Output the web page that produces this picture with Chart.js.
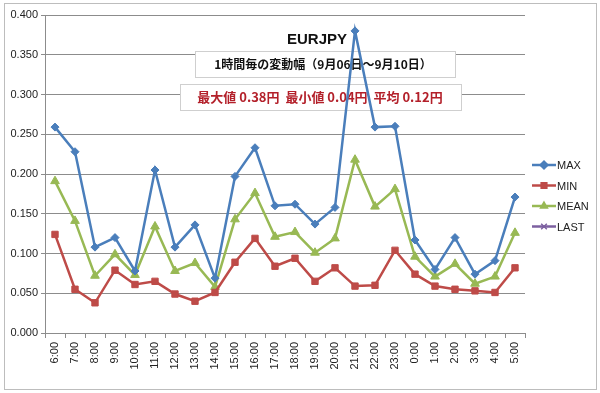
<!DOCTYPE html>
<html>
<head>
<meta charset="utf-8">
<script src="https://cdn.jsdelivr.net/npm/chart.js@4/dist/chart.umd.min.js"></script>
<style>
  html, body { margin: 0; padding: 0; background: #fff; }
  #wrap { width: 600px; height: 393px; position: relative; }
</style>
</head>
<body>
<div id="wrap"><canvas id="rangeChart" width="600" height="393"></canvas></div>
<script>
// EURJPY hourly range chart (Sep 06 - Sep 10)
const hours = ["6:00", "7:00", "8:00", "9:00", "10:00", "11:00", "12:00", "13:00", "14:00", "15:00", "16:00", "17:00",
    "18:00", "19:00", "20:00", "21:00", "22:00", "23:00", "0:00", "1:00", "2:00", "3:00", "4:00", "5:00"];
const maxValues = [0.259, 0.228, 0.108, 0.120, 0.078, 0.205, 0.108, 0.136, 0.069, 0.197, 0.233, 0.160,
    0.162, 0.137, 0.158, 0.380, 0.259, 0.260, 0.117, 0.080, 0.120, 0.074, 0.091, 0.171];
const minValues = [0.124, 0.055, 0.038, 0.079, 0.061, 0.065, 0.049, 0.040, 0.051, 0.089, 0.119, 0.084,
    0.094, 0.065, 0.082, 0.059, 0.060, 0.104, 0.074, 0.059, 0.055, 0.053, 0.051, 0.082];
const meanValues = [0.191, 0.141, 0.072, 0.099, 0.073, 0.134, 0.078, 0.088, 0.058, 0.143, 0.176, 0.121,
    0.127, 0.101, 0.119, 0.218, 0.159, 0.181, 0.096, 0.071, 0.087, 0.062, 0.071, 0.126];
const lastValues = [];
const yTicks = [0, 0.05, 0.1, 0.15, 0.2, 0.25, 0.3, 0.35, 0.4];

const seriesColors = { MAX: '#4a7ebb', MIN: '#be4b48', MEAN: '#98b954', LAST: '#7d60a0' };

// frame, text boxes and legend drawn like the Excel sheet
const decorations = {
    id: 'decorations',
    beforeDraw(chart) {
        const c = chart.ctx;
        c.save();
        c.fillStyle = '#fff';
        c.fillRect(0, 0, chart.width, chart.height);
        c.strokeStyle = '#bdbdbd';
        c.lineWidth = 1;
        c.strokeRect(4.5, 3.5, 592, 386);
        c.restore();
    },
    beforeDatasetsDraw(chart) {
        const c = chart.ctx;
        c.save();
        c.textAlign = 'center';
        c.textBaseline = 'middle';
        c.fillStyle = '#111';
        c.font = 'bold 15px "Liberation Sans", Arial, sans-serif';
        c.fillText('EURJPY', 317, 40);

        c.fillStyle = '#fff';
        c.strokeStyle = '#cfcfcf';
        c.fillRect(195, 51, 260, 26);
        c.strokeRect(195.5, 51.5, 260, 26);
        c.fillRect(180, 84, 281, 26);
        c.strokeRect(180.5, 84.5, 281, 26);

        c.fillStyle = '#111';
        c.font = 'bold 12px "Noto Sans CJK JP", sans-serif';
        c.fillText('1時間毎の変動幅（9月06日～9月10日）', 323, 64);
        c.fillStyle = '#b3202a';
        c.font = 'bold 13px "Noto Sans CJK JP", sans-serif';
        c.fillText('最大値 0.38円  最小値 0.04円  平均 0.12円', 320, 97);
        c.restore();
    },
    afterDraw(chart) {
        const c = chart.ctx;
        c.save();
        c.font = '11px "Liberation Sans", Arial, sans-serif';
        c.textBaseline = 'middle';
        chart.data.datasets.forEach((ds, i) => {
            const y = 165 + i * 20.5;
            c.strokeStyle = ds.borderColor;
            c.lineWidth = 2.5;
            c.beginPath();
            c.moveTo(532, y);
            c.lineTo(556, y);
            c.stroke();
            c.fillStyle = ds.borderColor;
            c.lineWidth = 1.5;
            Chart.helpers.drawPoint(c, { pointStyle: ds.pointStyle, radius: 4, borderWidth: 1.5, rotation: 0 }, 544, y);
            c.fillStyle = '#222';
            c.fillText(ds.label, 557, y + 1);
        });
        c.restore();
    }
};

function lineSeries(label, values, style, radius) {
    return {
        label: label,
        data: values,
        borderColor: seriesColors[label],
        backgroundColor: seriesColors[label],
        borderWidth: 2.5,
        pointStyle: style,
        pointRadius: radius,
        pointBorderWidth: 1,
        tension: 0,
        fill: false
    };
}

new Chart(document.getElementById('rangeChart'), {
    type: 'line',
    data: {
        labels: hours,
        datasets: [
            lineSeries('MAX', maxValues, 'rectRot', 4),
            lineSeries('MIN', minValues, 'rect', 4.5),
            lineSeries('MEAN', meanValues, 'triangle', 5),
            lineSeries('LAST', lastValues, 'crossRot', 4)
        ]
    },
    options: {
        responsive: false,
        animation: false,
        layout: { padding: { left: 5, top: 15, right: 75, bottom: 0 } },
        plugins: {
            legend: { display: false },
            title: { display: false },
            tooltip: { enabled: false }
        },
        scales: {
            x: {
                offset: true,
                afterFit(scale) { scale.height = 60; },
                grid: {
                    offset: true,
                    drawOnChartArea: false,
                    drawTicks: true,
                    tickLength: 5,
                    color: '#8c8c8c'
                },
                border: { color: '#8c8c8c', width: 1 },
                ticks: {
                    autoSkip: false,
                    minRotation: 90,
                    maxRotation: 90,
                    padding: 4,
                    color: '#222',
                    font: { family: '"Liberation Sans", Arial, sans-serif', size: 11 }
                }
            },
            y: {
                min: 0,
                max: 0.4,
                afterFit(scale) { scale.width = 40; },
                afterBuildTicks(scale) { scale.ticks = yTicks.map(v => ({ value: v })); },
                grid: {
                    color: '#8c8c8c',
                    lineWidth: 1,
                    tickLength: 4
                },
                border: { color: '#8c8c8c', width: 1 },
                ticks: {
                    padding: 3,
                    color: '#222',
                    font: { family: '"Liberation Sans", Arial, sans-serif', size: 11 },
                    callback: v => v.toFixed(3)
                }
            }
        }
    },
    plugins: [decorations]
});
</script>
</body>
</html>
